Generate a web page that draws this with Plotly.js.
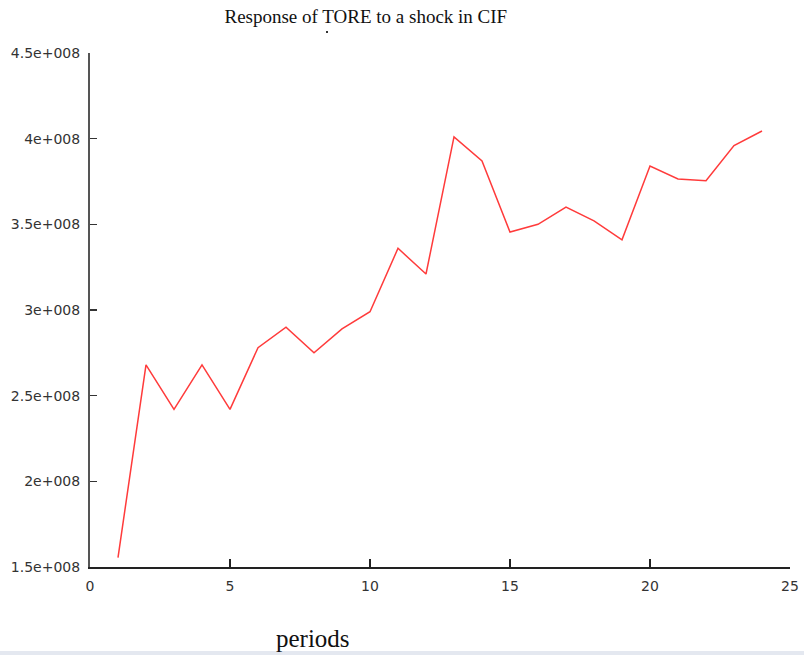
<!DOCTYPE html>
<html>
<head>
<meta charset="utf-8">
<script src="https://cdn.plot.ly/plotly-3.0.1.min.js"></script>
<style>html,body{margin:0;padding:0;background:#fff;}#chart{width:804px;height:655px;}</style>
</head>
<body>
<div id="chart"></div>
<script>
var periods = [1,2,3,4,5,6,7,8,9,10,11,12,13,14,15,16,17,18,19,20,21,22,23,24];
var response = [1.555e8,2.68e8,2.42e8,2.68e8,2.42e8,2.78e8,2.90e8,2.75e8,2.89e8,2.99e8,3.36e8,3.21e8,4.01e8,3.87e8,3.455e8,3.50e8,3.60e8,3.52e8,3.41e8,3.84e8,3.765e8,3.755e8,3.96e8,4.045e8];
var yTickVals = [1.5e8,2e8,2.5e8,3e8,3.5e8,4e8,4.5e8];
var yTickText = ["1.5e+008","2e+008","2.5e+008","3e+008","3.5e+008","4e+008","4.5e+008"];
var xTickVals = [0,5,10,15,20,25];

var trace = {
  x: periods, y: response, type: 'scatter', mode: 'lines',
  line: {color: '#ff3b3b', width: 1.5}, hoverinfo: 'skip'
};
var layout = {
  width: 804, height: 655,
  margin: {l: 90, r: 14, t: 53, b: 88},
  paper_bgcolor: '#ffffff', plot_bgcolor: '#ffffff',
  showlegend: false,
  title: {text: 'Response of TORE to a shock in CIF', font: {family: 'Liberation Serif', size: 19, color: '#111'}, x: 0.455, xanchor: 'center', y: 0.975, yanchor: 'middle'},
  xaxis: {
    range: [0, 25], tickvals: xTickVals, ticktext: xTickVals.map(String),
    showgrid: false, zeroline: false, showline: true, linecolor: '#222', linewidth: 2,
    ticks: 'inside', ticklen: 8, tickcolor: '#222', tickwidth: 1.5,
    ticklabelstandoff: 5,
    tickfont: {family: 'DejaVu Sans', size: 14, color: '#333'}
  },
  yaxis: {
    range: [1.5e8, 4.5e8], tickvals: yTickVals, ticktext: yTickText,
    showgrid: false, zeroline: false, showline: true, linecolor: '#555', linewidth: 2,
    ticks: 'inside', ticklen: 7, tickcolor: '#333', tickwidth: 1.5,
    ticklabelstandoff: 5,
    tickfont: {family: 'DejaVu Sans', size: 14, color: '#333'}
  },
  annotations: [
    {text: 'periods', xref: 'paper', yref: 'paper', x: (313-90)/700, y: (567-638)/514, xanchor: 'center', yanchor: 'middle', showarrow: false, font: {family: 'Liberation Serif', size: 25, color: '#111'}}
  ],
  shapes: [
    {type: 'rect', xref: 'paper', yref: 'paper', x0: -90/700, x1: 714/700, y0: (567-655)/514, y1: (567-651)/514, fillcolor: '#e4e8f0', line: {width: 0}, layer: 'below'},
    {type: 'rect', xref: 'paper', yref: 'paper', x0: (326-90)/700, x1: (328-90)/700, y0: (567-33)/514, y1: (567-31)/514, fillcolor: '#333', line: {width: 0}}
  ]
};
Plotly.newPlot('chart', [trace], layout, {staticPlot: true, displayModeBar: false});
</script>
</body>
</html>
